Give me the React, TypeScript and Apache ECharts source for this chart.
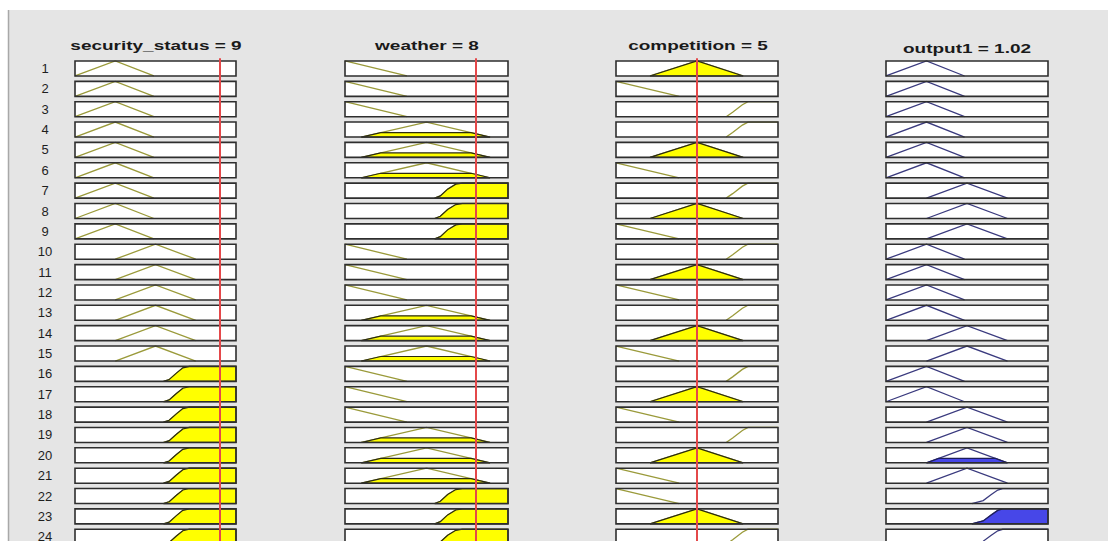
import React, { useEffect, useRef } from "react";
import * as echarts from "echarts";

// ---- data ----
const rowLabels = ["1","2","3","4","5","6","7","8","9","10","11","12","13","14","15","16","17","18","19","20","21","22","23","24"];

const securityRules = ["low","low","low","low","low","low","low","low","low","med","med","med","med","med","med","high","high","high","high","high","high","high","high","high"];
const weatherRules = ["low","low","low","med","med","med","high","high","high","low","low","low","med","med","med","low","low","low","med","med","med","high","high","high"];
const competitionRules = ["med","low","high","high","med","low","high","med","low","high","med","low","high","med","low","high","med","low","high","med","low","low","med","high"];
const outputRules = ["low","low","low","low","low","low","med","med","med","low","low","low","low","med","med","low","low","med","med","med","med","high","high","high"];

// membership function outlines [x, degree]
const securityMF: Record<string, number[][]> = {
  low: [[0, 0], [2.5, 1], [4.9, 0]],
  med: [[2.5, 0], [5, 1], [7.5, 0]],
  high: [[5.5, 0], [5.85, 0.12], [6.3, 0.55], [6.7, 0.9], [7.1, 1], [10, 1]],
};
const weatherMF: Record<string, number[][]> = {
  low: [[0, 1], [3.8, 0]],
  med: [[1, 0], [5, 1], [8.9, 0]],
  high: [[5.5, 0], [5.85, 0.15], [6.3, 0.6], [6.8, 0.93], [7.2, 1], [10, 1]],
};
const competitionMF: Record<string, number[][]> = {
  low: [[0, 1], [3.9, 0]],
  med: [[2.1, 0], [5, 1], [7.85, 0]],
  high: [[6.8, 0], [7.2, 0.3], [7.8, 0.8], [8.15, 1], [10, 1]],
};
const outputMF: Record<string, number[][]> = {
  low: [[0, 0], [0.5, 1], [0.97, 0]],
  med: [[0.5, 0], [1, 1], [1.5, 0]],
  high: [[1.06, 0], [1.2, 0.2], [1.3, 0.6], [1.38, 0.9], [1.44, 1], [2, 1]],
};

// fill (firing) levels
const securityFill: Record<string, number> = { low: 0, med: 0, high: 1 };
const weatherFill: Record<string, number> = { low: 0, med: 0.3, high: 1 };
const competitionFill: Record<string, number> = { low: 0, med: 1, high: 0 };
const outputFill = [0,0,0,0,0,0,0,0,0,0,0,0,0,0,0,0,0,0,0,0.3,0,0,1,0];

const inputValues = [9, 8, 5];
const titles = ["security_status = 9", "weather = 8", "competition = 5", "output1 = 1.02"];
const ranges = [[0, 10], [0, 10], [0, 10], [0, 2]];

// ---- layout ----
const gridLefts = [75, 345, 616, 886];
const gridWidths = [161, 163, 162, 162];
const titleX = [156, 427, 698, 967];
const titleY = [45, 45, 45, 48];
const GRID_TOP = 58.3;
const ROW_STEP = 20.36;

function clipShape(pts: number[][], h: number): number[][] {
  const poly: number[][] = [[pts[0][0], 0]];
  for (let i = 0; i < pts.length; i++) {
    const p = pts[i];
    if (i > 0) {
      const q = pts[i - 1];
      if ((q[1] - h) * (p[1] - h) < 0) {
        const t = (h - q[1]) / (p[1] - q[1]);
        poly.push([q[0] + t * (p[0] - q[0]), h]);
      }
    }
    poly.push([p[0], Math.min(p[1], h)]);
  }
  poly.push([pts[pts.length - 1][0], 0]);
  return poly;
}

export default function App() {
  const ref = useRef<HTMLDivElement>(null);
  useEffect(() => {
    document.body.style.margin = "0";
    const chart = echarts.init(ref.current!, null, { renderer: "svg" });

    const panels = [
      { rules: securityRules, mf: securityMF, fill: (r: number) => securityFill[securityRules[r]], line: "#9a9a3a", fillColor: "#ffff00", edge: "#2a2a10" },
      { rules: weatherRules, mf: weatherMF, fill: (r: number) => weatherFill[weatherRules[r]], line: "#9a9a3a", fillColor: "#ffff00", edge: "#2a2a10" },
      { rules: competitionRules, mf: competitionMF, fill: (r: number) => competitionFill[competitionRules[r]], line: "#9a9a3a", fillColor: "#ffff00", edge: "#2a2a10" },
      { rules: outputRules, mf: outputMF, fill: (r: number) => outputFill[r], line: "#3a3a7e", fillColor: "#4747e8", edge: "#1e1e5a" },
    ];

    const grids = panels.map((_, i) => ({
      left: gridLefts[i], width: gridWidths[i], top: GRID_TOP, height: ROW_STEP * 24,
    }));
    const xAxes = panels.map((_, i) => ({
      type: "value", gridIndex: i, min: ranges[i][0], max: ranges[i][1], show: false,
    }));
    const yAxes = panels.map((_, i) => ({
      type: "category", gridIndex: i, data: rowLabels, inverse: true,
      axisLine: { show: false }, axisTick: { show: false }, splitLine: { show: false },
      axisLabel: {
        show: i === 0, interval: 0, align: "center", margin: 30,
        fontFamily: "Liberation Sans", fontSize: 13, color: "#1e1e1e",
      },
    }));

    const series: any[] = panels.map((p, i) => ({
      type: "custom",
      xAxisIndex: i, yAxisIndex: i,
      data: rowLabels.map((_, r) => [ranges[i][0], r]),
      renderItem: (params: any, api: any) => {
        const r = api.value(1);
        const c0 = api.coord([ranges[i][0], r]);
        const right = api.coord([ranges[i][1], r])[0];
        const left = c0[0];
        const cy = c0[1];
        const hh = 7.5;
        const top = cy - hh;
        const bottom = cy + hh;
        const toPx = (pt: number[]) => [api.coord([pt[0], r])[0], bottom - pt[1] * (bottom - top)];
        const shape = p.mf[p.rules[r]];
        const lvl = p.fill(r);
        const children: any[] = [
          { type: "rect", shape: { x: left, y: top, width: right - left, height: bottom - top }, style: { fill: "#ffffff", stroke: "none" } },
          { type: "polyline", shape: { points: shape.map(toPx) }, style: { fill: "none", stroke: p.line, lineWidth: 1.3 } },
        ];
        if (lvl > 0) {
          children.push({ type: "polygon", shape: { points: clipShape(shape, lvl).map(toPx) }, style: { fill: p.fillColor, stroke: p.edge, lineWidth: 1.2 } });
        }
        children.push({ type: "rect", shape: { x: left, y: top, width: right - left, height: bottom - top }, style: { fill: "none", stroke: "#2e2e2e", lineWidth: 1.6 } });
        return { type: "group", children };
      },
      markLine: i < 3 ? {
        silent: true, symbol: ["none", "none"], label: { show: false },
        lineStyle: { color: "#e4484a", width: 2, type: "solid" },
        data: [{ xAxis: inputValues[i] }],
        z: 10,
      } : undefined,
    }));

    const graphic: any[] = [
      { type: "rect", shape: { x: 0, y: 0, width: 1108, height: 10 }, style: { fill: "#ffffff" }, silent: true },
      { type: "rect", shape: { x: 0, y: 0, width: 8, height: 570 }, style: { fill: "#ffffff" }, silent: true },
      { type: "line", shape: { x1: 8.5, y1: 10, x2: 8.5, y2: 570 }, style: { stroke: "#a8a8a8", lineWidth: 1.5 }, silent: true },
      ...titles.map((t, i) => ({
        type: "text", x: titleX[i], y: titleY[i], scaleX: 1.46, scaleY: 1,
        style: { text: t, font: "bold 13px 'Liberation Sans', Arial, sans-serif", fill: "#1a1a1a", textAlign: "center", textVerticalAlign: "middle" },
        silent: true,
      })),
    ];

    chart.setOption({
      animation: false,
      backgroundColor: "#e5e5e5",
      grid: grids,
      xAxis: xAxes,
      yAxis: yAxes,
      series,
      graphic,
    });
    return () => chart.dispose();
  }, []);
  return <div ref={ref} style={{ position: "fixed", left: 0, top: 0, width: 1108, height: 570 }} />;
}
